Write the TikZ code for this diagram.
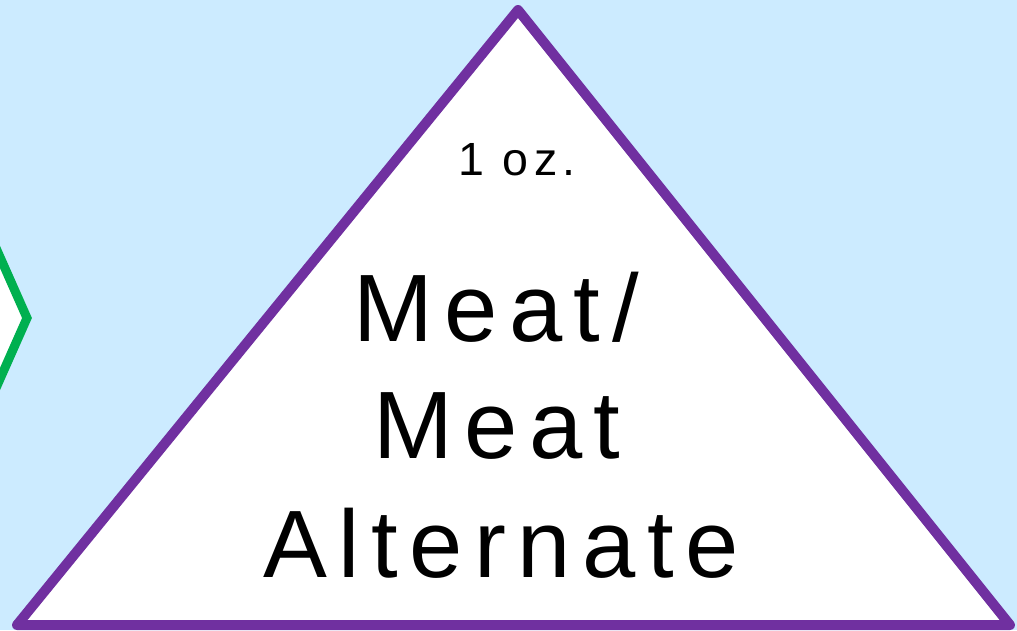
\documentclass[tikz,border=0pt]{standalone}
\usepackage{fontspec}
\setmainfont{Liberation Sans}[LetterSpace=12]
\usepackage{xcolor}
\definecolor{skyback}{HTML}{CCEBFF}
\definecolor{meatpurple}{HTML}{7030A0}
\definecolor{veggreen}{HTML}{00B050}

\begin{document}
\begin{tikzpicture}[x=0.02cm, y=-0.02cm]
\useasboundingbox (0,0) rectangle (1017,630);
\fill[skyback] (0,0) rectangle (1017,630);

\filldraw[veggreen, fill=white, line width=0.18cm, line join=miter] (-60,248) --(-4,248) --(27,318) --(-4,388) --(-60,388) --cycle;

\filldraw[meatpurple, fill=white, line width=0.2cm, line join=round] (518,10) --(1010,625) --(17,625) --cycle;

\node[anchor=base, font=\fontsize{26.5}{30}\selectfont] (serving) at (517,175) {1 oz.};
\node[anchor=base, font=\fontsize{54.5}{66}\selectfont] (meat1) at (496,341) {Meat/};
\node[anchor=base, font=\fontsize{54.5}{66}\selectfont] (meat2) at (497,458) {Meat};
\node[anchor=base, font=\fontsize{54.5}{66}\selectfont] (alternate) at (501,577) {Alternate};
\end{tikzpicture}
\end{document}
